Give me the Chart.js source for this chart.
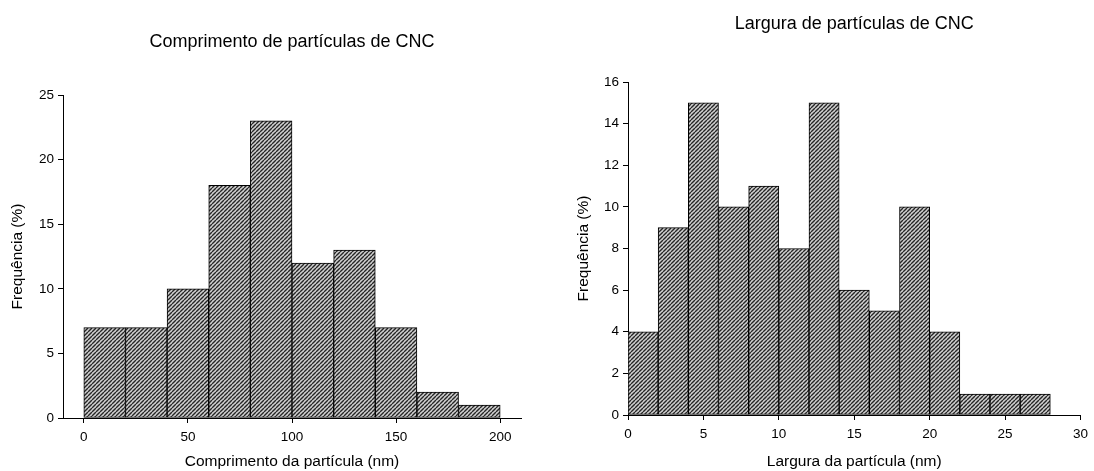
<!DOCTYPE html>
<html>
<head>
<meta charset="utf-8">
<script src="https://cdn.jsdelivr.net/npm/chart.js@4.4.1/dist/chart.umd.min.js"></script>
<style>
  html, body { margin: 0; padding: 0; background: #fff; }
  #wrap { position: relative; width: 1094px; height: 471px; }
  .box { position: absolute; top: 0; width: 547px; height: 471px; }
  #b1 { left: 0; }
  #b2 { left: 547px; }
</style>
</head>
<body>
<div id="wrap">
  <div class="box" id="b1"><canvas id="c1"></canvas></div>
  <div class="box" id="b2"><canvas id="c2"></canvas></div>
</div>
<script>
// ---- Data ----
const lengthBinCenters = [10, 30, 50, 70, 90, 110, 130, 150, 170, 190];   // nm (bins of 20)
const lengthFreq       = [7, 7, 10, 18, 23, 12, 13, 7, 2, 1];            // %
const lengthTicksX     = [0, 50, 100, 150, 200];
const lengthTicksY     = [0, 5, 10, 15, 20, 25];

const widthBinCenters  = [1, 3, 5, 7, 9, 11, 13, 15, 17, 19, 21, 23, 25, 27]; // nm (bins of 2)
const widthFreq        = [4, 9, 15, 10, 11, 8, 15, 6, 5, 10, 4, 1, 1, 1];      // %
const widthTicksX      = [0, 5, 10, 15, 20, 25, 30];
const widthTicksY      = [0, 2, 4, 6, 8, 10, 12, 14, 16];

const titleLeft  = 'Comprimento de partículas de CNC';
const titleRight = 'Largura de partículas de CNC';
const xTitleLeft  = 'Comprimento da partícula (nm)';
const xTitleRight = 'Largura da partícula (nm)';
const yTitle = 'Frequência (%)';

// ---- Hatch pattern ----
function makeHatch() {
  const c = document.createElement('canvas');
  c.width = 4; c.height = 4;
  const g = c.getContext('2d');
  g.fillStyle = '#d0d0d0';
  g.fillRect(0, 0, 4, 4);
  g.strokeStyle = '#262626';
  g.lineWidth = 1.35;
  for (const o of [-4, 0, 4]) {
    g.beginPath();
    g.moveTo(o, 4);
    g.lineTo(o + 4, 0);
    g.stroke();
  }
  return g.createPattern(c, 'repeat');
}
const hatch = makeHatch();

const FONT = "'Liberation Sans', Arial, sans-serif";

function buildChart(canvasId, cfg) {
  const data = cfg.centers.map((x, i) => ({ x: x, y: cfg.values[i] }));
  return new Chart(document.getElementById(canvasId), {
    type: 'bar',
    data: {
      datasets: [{
        data: data,
        backgroundColor: hatch,
        borderColor: '#000',
        borderWidth: 1,
        borderSkipped: false,
        barPercentage: 1,
        categoryPercentage: 1
      }]
    },
    options: {
      responsive: true,
      maintainAspectRatio: false,
      animation: false,
      events: [],
      layout: { padding: { left: 0, right: cfg.padRight, top: 0, bottom: 0 } },
      plugins: {
        legend: { display: false },
        tooltip: { enabled: false },
        title: {
          display: true,
          fullSize: false,
          text: cfg.title,
          color: '#000',
          font: { family: FONT, size: 18, weight: 'normal' },
          padding: { top: cfg.titleTop, bottom: cfg.titleBottom }
        }
      },
      scales: {
        x: {
          type: 'linear',
          min: cfg.xMin,
          max: cfg.xMax,
          offset: false,
          afterBuildTicks: axis => { axis.ticks = cfg.xTicks.map(v => ({ value: v })); },
          afterFit: s => { s.height = cfg.xAxisHeight; },
          grid: { display: true, drawOnChartArea: false, drawTicks: true, tickLength: 5, color: '#000', lineWidth: 1, offset: false },
          border: { display: true, color: '#000', width: 1 },
          ticks: { color: '#000', padding: 6, maxRotation: 0, autoSkip: false, font: { family: FONT, size: 13.5 } },
          title: {
            display: true, text: cfg.xTitle, color: '#000',
            font: { family: FONT, size: 15.5 }, padding: { top: 0, bottom: 0 }
          }
        },
        y: {
          type: 'linear',
          min: 0,
          max: cfg.yMax,
          afterBuildTicks: axis => { axis.ticks = cfg.yTicks.map(v => ({ value: v })); },
          afterFit: s => { s.width = cfg.yAxisWidth; },
          grid: { display: true, drawOnChartArea: false, drawTicks: true, tickLength: 5, color: '#000', lineWidth: 1 },
          border: { display: true, color: '#000', width: 1 },
          ticks: { color: '#000', padding: 4, font: { family: FONT, size: 13.5 } },
          title: {
            display: true, text: yTitle, color: '#000',
            font: { family: FONT, size: 15.5 }, padding: { top: cfg.yTitlePad, bottom: 0 }
          }
        }
      }
    }
  });
}

buildChart('c1', {
  centers: lengthBinCenters, values: lengthFreq,
  xMin: -10, xMax: 210, xTicks: lengthTicksX,
  yMax: 25, yTicks: lengthTicksY,
  title: titleLeft, xTitle: xTitleLeft,
  titleTop: 31.2, titleBottom: 42.2,
  padRight: 26, yAxisWidth: 63, xAxisHeight: 53, yTitlePad: 8.7
});

buildChart('c2', {
  centers: widthBinCenters, values: widthFreq,
  xMin: 0, xMax: 30, xTicks: widthTicksX,
  yMax: 16, yTicks: widthTicksY,
  title: titleRight, xTitle: xTitleRight,
  titleTop: 13.2, titleBottom: 47.2,
  padRight: 8, yAxisWidth: 81, xAxisHeight: 56, yTitlePad: 27.7
});
</script>
</body>
</html>
